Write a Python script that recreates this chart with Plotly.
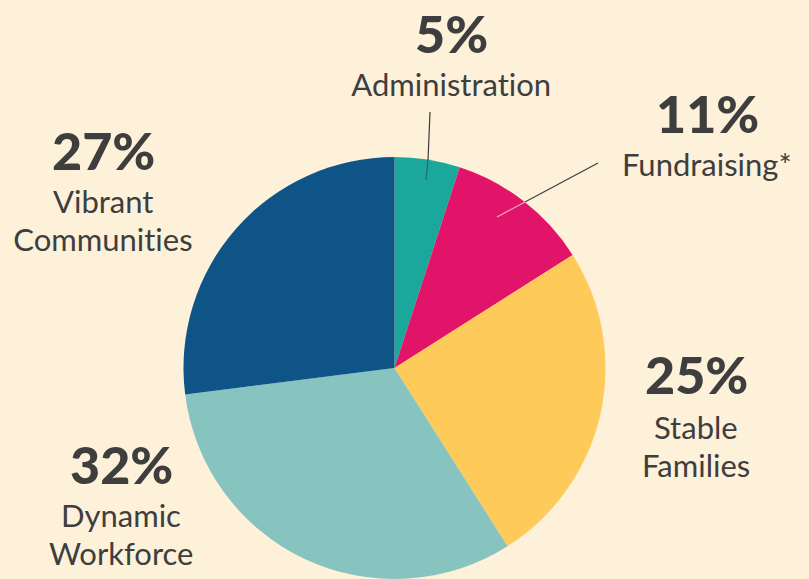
import plotly.graph_objects as go

# data
categories = ['Administration', 'Fundraising*', 'Stable Families', 'Dynamic Workforce', 'Vibrant Communities']
shares = [5, 11, 25, 32, 27]
slice_colors = ['#1AA89D', '#E1146A', '#FECB5A', '#88C4BF', '#0E5487']
label_lines = [['Administration'], ['Fundraising*'], ['Stable', 'Families'],
               ['Dynamic', 'Workforce'], ['Vibrant', 'Communities']]

W, H = 809, 579
bg = '#FDF1DA'
ink = '#3E3E3E'

# label placement in pixels (center x, y of the percent, y of first label line)
label_pos = {
    'Administration': (451, 33, 84),
    'Fundraising*': (707, 113, 164),
    'Stable Families': (696, 374, 427),
    'Dynamic Workforce': (121, 464, 515),
    'Vibrant Communities': (103, 150, 201),
}

cx, cy, r = 394.5, 368, 211

fig = go.Figure()
fig.add_trace(go.Pie(
    labels=categories, values=shares, sort=False, direction='clockwise', rotation=0,
    marker=dict(colors=slice_colors, line=dict(width=0)),
    textinfo='none', hoverinfo='label+percent', showlegend=False,
    domain=dict(x=[(cx - r) / W, (cx + r) / W], y=[max(0, (H - cy - r) / H), (H - cy + r) / H]),
))

def px(x, y):
    return x / W, 1 - y / H

annotations = []
for cat, val, lines in zip(categories, shares, label_lines):
    x, yp, yl = label_pos[cat]
    ax_, ay_ = px(x, yp)
    annotations.append(dict(text=f'{val}%', x=ax_, y=ay_, xref='paper', yref='paper',
                            showarrow=False, xanchor='center', yanchor='middle',
                            font=dict(family='Lato', size=52, color=ink, weight=900)))
    for i, line in enumerate(lines):
        lx, ly = px(x, yl + i * 38)
        annotations.append(dict(text=line, x=lx, y=ly, xref='paper', yref='paper',
                                showarrow=False, xanchor='center', yanchor='middle',
                                font=dict(family='Lato', size=31, color=ink)))

def seg(x0, y0, x1, y1, color, width=1.2):
    a0, b0 = px(x0, y0)
    a1, b1 = px(x1, y1)
    return dict(type='line', xref='paper', yref='paper', x0=a0, y0=b0, x1=a1, y1=b1,
                line=dict(color=color, width=width))

shapes = [
    seg(430, 112, 428, 160, ink),
    seg(428, 160, 426, 180, 'rgba(60,60,60,0.6)'),
    seg(598, 163, 525, 202, ink),
    seg(525, 202, 497, 217, 'rgba(255,230,240,0.7)'),
]

fig.update_layout(
    width=W, height=H,
    margin=dict(l=0, r=0, t=0, b=0),
    paper_bgcolor=bg, plot_bgcolor=bg,
    annotations=annotations, shapes=shapes,
)

# drop the page margin and the 'ti' ligature of Lato
fix = ("document.body.style.margin='0';"
       "var s=document.createElement('style');"
       "s.textContent='text{font-variant-ligatures:none;font-feature-settings:\"liga\" 0;}';"
       "document.head.appendChild(s);")
fig.write_html("out.html", post_script=fix, config={'displayModeBar': False})
